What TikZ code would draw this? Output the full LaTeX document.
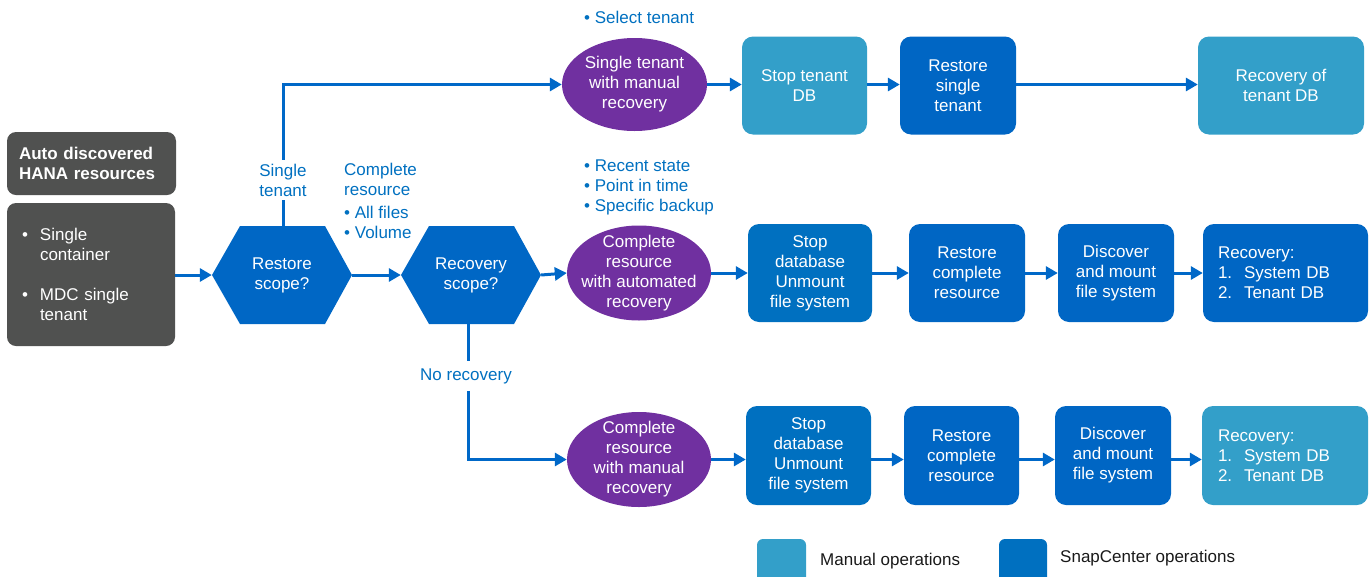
\documentclass[tikz,border=0pt]{standalone}
\usepackage{fontspec}
\setmainfont{Liberation Sans}
\usetikzlibrary{arrows.meta,shapes.geometric,positioning,calc}
\definecolor{darkgrey}{HTML}{505150}
\definecolor{hexblue}{HTML}{0067C5}
\definecolor{sblue}{HTML}{0070C0}
\definecolor{dblue}{HTML}{0066C4}
\definecolor{lblue}{HTML}{339FC9}
\definecolor{purp}{HTML}{7030A0}
\definecolor{txtblue}{HTML}{0070C0}
\definecolor{lineblue}{HTML}{0068C8}
\tikzset{
  base/.style={font=\fontsize{17}{20}\selectfont, text=white, align=center, inner sep=0pt},
  greybox/.style={base, fill=darkgrey, rounded corners=9pt},
  opbox/.style={base, rounded corners=11pt, minimum height=98pt},
  snap/.style={opbox, fill=dblue},
  snapb/.style={opbox, fill=sblue},
  man/.style={opbox, fill=lblue},
  oval/.style={base, minimum width=144pt, minimum height=95pt,
    path picture={\fill[purp] (path picture bounding box.center) ellipse [x radius=72pt, y radius=47.5pt];}},
  ovaltop/.style={base, minimum width=145pt, minimum height=93pt,
    path picture={\fill[purp] (path picture bounding box.center) ellipse [x radius=72.5pt, y radius=46.5pt];}},
  hexa/.style={base, minimum width=140pt, minimum height=98pt,
    path picture={\fill[hexblue] (path picture bounding box.west)
      -- ([xshift=28pt]path picture bounding box.north west)
      -- ([xshift=-27pt]path picture bounding box.north east)
      -- (path picture bounding box.east)
      -- ([xshift=-27pt]path picture bounding box.south east)
      -- ([xshift=28pt]path picture bounding box.south west) -- cycle;}},
  lbl/.style={font=\fontsize{17}{20}\selectfont, text=txtblue, inner sep=0pt},
  flow/.style={draw=lineblue, line width=3pt, -{Triangle[length=12pt,width=13pt]}},
  plain/.style={draw=lineblue, line width=3pt},
  legtxt/.style={font=\fontsize{17}{20}\selectfont, text=black!90, inner sep=0pt, anchor=west}
}
\begin{document}
\begin{tikzpicture}[x=1pt,y=-1pt]
\useasboundingbox (0,0) rectangle (1372,576);
\begin{scope}
\clip (0,0) rectangle (1372,576);
% left boxes
\node[greybox, font=\bfseries\fontsize{17}{20}\selectfont, minimum width=169pt, minimum height=63pt, inner xsep=12pt, text width=145pt, align=left] (auto) at (91.5,163.5) {Auto discovered\\HANA resources};
\node[greybox, minimum width=168pt, minimum height=143pt, inner xsep=15pt, text width=138pt, align=left] (res) at (91,274.5)
  {\makebox[18pt][l]{\textbullet}Single\\\hspace*{18pt}container\\[20pt]\makebox[18pt][l]{\textbullet}MDC single\\\hspace*{18pt}tenant};
% hexagons
\node[hexa] (rs) at (282,275) {Restore\\scope?};
\node[hexa] (rec) at (471,275) {Recovery\\scope?};
% ellipses
\node[ovaltop] (e1) at (634.5,84.5) {Single tenant\\with manual\\recovery};
\node[oval] (e2) at (639,273) {Complete\\resource\\with automated\\recovery};
\node[oval] (e3) at (639,459.5) {Complete\\resource\\with manual\\recovery};
% top row
\node[man, minimum width=125pt] (t1) at (804.5,85.5) {Stop tenant\\DB};
\node[snap, minimum width=116pt] (t2) at (958,85.5) {Restore\\single\\tenant};
\node[man, minimum width=166pt] (t3) at (1281,85.5) {Recovery of\\tenant DB};
% middle row
\node[snapb, minimum width=124pt] (m1) at (810,273) {Stop\\database\\Unmount\\file system};
\node[snap, minimum width=116pt] (m2) at (967,273) {Restore\\complete\\resource};
\node[snap, minimum width=116pt] (m3) at (1116,273) {Discover\\and mount\\file system};
\node[snap, minimum width=165pt, inner xsep=15pt, text width=135pt, align=left] (m4) at (1285.5,273) {Recovery:\\\makebox[26pt][l]{1.}System DB\\\makebox[26pt][l]{2.}Tenant DB};
% bottom row
\node[snapb, minimum width=125pt, minimum height=99pt] (b1) at (808.5,455.5) {Stop\\database\\Unmount\\file system};
\node[snap, minimum width=115pt, minimum height=99pt] (b2) at (961.5,455.5) {Restore\\complete\\resource};
\node[snap, minimum width=116pt, minimum height=99pt] (b3) at (1113,455.5) {Discover\\and mount\\file system};
\node[man, minimum width=166pt, minimum height=99pt, inner xsep=16pt, text width=134pt, align=left] (b4) at (1285,455.5) {Recovery:\\\makebox[26pt][l]{1.}System DB\\\makebox[26pt][l]{2.}Tenant DB};
% labels
\node[lbl, align=center] (st) at (283,180) {Single\\tenant};
\node[lbl, align=left, anchor=north west] (cr) at (344,163) {Complete\\resource\\[3pt]\textbullet\ All files\\\textbullet\ Volume};
\node[lbl, anchor=west] (sel) at (584,17) {\textbullet\ Select tenant};
\node[lbl, align=left, anchor=north west] (rp) at (584,160) {\textbullet\ Recent state\\\textbullet\ Point in time\\\textbullet\ Specific backup};
\node[lbl] (nr) at (466,376) {No recovery};
% legend
\node[fill=lblue, rounded corners=6pt, minimum width=49pt, minimum height=46pt, inner sep=0pt] (lg1) at (781.5,562) {};
\node[legtxt] (lt1) at (820,561) {Manual operations};
\node[fill=sblue, rounded corners=6pt, minimum width=48pt, minimum height=46pt, inner sep=0pt] (lg2) at (1023,562) {};
\node[legtxt] (lt2) at (1060,558) {SnapCenter operations};
\end{scope}
% connectors
\draw[flow] (res.east |- rs.west) -- (rs.west);
\draw[plain] (st.south |- rs.north) -- ([yshift=-4pt]st.south);
\draw[flow] ([yshift=4pt]st.north) |- (e1.west);
\draw[flow] (rs.east) -- (rec.west);
\draw[flow] (rec.east) -- (e2.west);
\draw[plain] ([xshift=-3pt]rec.south) -- ([xshift=-3pt,yshift=7pt]rec.south |- nr.north);
\draw[flow] ([xshift=-3pt,yshift=-7pt]rec.south |- nr.south) |- (e3.west);
\draw[flow] (e1.east) -- (t1.west |- e1.east);
\draw[flow] (t1.east |- e1.east) -- (t2.west |- e1.east);
\draw[flow] (t2.east |- e1.east) -- (t3.west |- e1.east);
\draw[flow] (e2.east) -- (m1.west);
\draw[flow] (m1.east) -- (m2.west);
\draw[flow] (m2.east) -- (m3.west);
\draw[flow] (m3.east) -- (m4.west);
\draw[flow] (e3.east) -- (b1.west |- e3.east);
\draw[flow] (b1.east |- e3.east) -- (b2.west |- e3.east);
\draw[flow] (b2.east |- e3.east) -- (b3.west |- e3.east);
\draw[flow] (b3.east |- e3.east) -- (b4.west |- e3.east);
\end{tikzpicture}
\end{document}
